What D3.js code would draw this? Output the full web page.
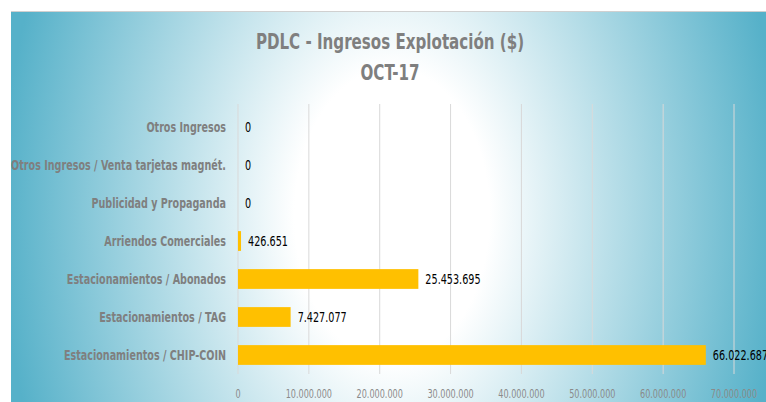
<!DOCTYPE html>
<html>
<head>
<meta charset="utf-8">
<script src="https://cdn.jsdelivr.net/npm/d3@7"></script>
<style>
  body { margin: 0; background: #fff; }
  svg { display: block; }
  text { font-family: "DejaVu Sans Condensed", "DejaVu Sans", sans-serif; }
</style>
</head>
<body>
<div id="chart"></div>
<script>
// Data
const categories = [
    "Otros Ingresos",
    "Otros Ingresos / Venta tarjetas magnét.",
    "Publicidad y Propaganda",
    "Arriendos Comerciales",
    "Estacionamientos / Abonados",
    "Estacionamientos / TAG",
    "Estacionamientos / CHIP-COIN"
];
const values = [0, 0, 0, 426651, 25453695, 7427077, 66022687];
const xTicks = [0, 10000000, 20000000, 30000000, 40000000, 50000000, 60000000, 70000000];
const titleLines = ["PDLC - Ingresos Explotación ($)", "OCT-17"];

const W = 766, H = 402;
const margin = {top: 108, right: 32, bottom: 28, left: 238};
const height = H - margin.top - margin.bottom;

// thousands separator with dots
const fmt = d3.formatLocale({decimal: ",", thousands: ".", grouping: [3], currency: ["$", ""]}).format(",.0f");

// squeeze the condensed font a bit more, to look like the narrow original face
const squeeze = (sx) => (sel) => sel.attr("transform", function() {
    const px = +this.getAttribute("data-x"), py = +this.getAttribute("data-y");
    return `translate(${px},${py}) scale(${sx},1)`;
});

const svg = d3.select("#chart").append("svg")
    .attr("width", W)
    .attr("height", H);

// background gradient
const defs = svg.append("defs");
const grad = defs.append("radialGradient")
    .attr("id", "bg")
    .attr("gradientUnits", "userSpaceOnUse")
    .attr("cx", 392).attr("cy", 215).attr("r", 390)
    .attr("gradientTransform", "translate(392,215) scale(1,1.5) translate(-392,-215)");
grad.append("stop").attr("offset", "0%").attr("stop-color", "#ffffff");
grad.append("stop").attr("offset", "25%").attr("stop-color", "#ffffff");
grad.append("stop").attr("offset", "100%").attr("stop-color", "#56b1c9");

svg.append("rect")
    .attr("x", 11).attr("y", 11)
    .attr("width", W - 11).attr("height", H - 11)
    .attr("fill", "url(#bg)");
svg.append("line")
    .attr("x1", 11).attr("x2", W).attr("y1", 11.5).attr("y2", 11.5)
    .style("stroke", "#d0d0d0");

// title
svg.append("g").selectAll("text")
    .data(titleLines)
    .enter().append("text")
    .attr("data-x", 390)
    .attr("data-y", (d, i) => 49 + i * 31)
    .attr("text-anchor", "middle")
    .style("font-size", "21px")
    .style("font-weight", "bold")
    .style("fill", "#7f7f7f")
    .text(d => d)
    .call(squeeze(0.8));

const g = svg.append("g")
    .attr("transform", `translate(${margin.left},${margin.top})`);

const x = d3.scaleLinear().domain([0, 70000000]).range([0, 496]);
const y = d3.scaleBand().domain(categories).range([0, height]).paddingInner(0.48).paddingOuter(0.24);

// gridlines
g.selectAll("line.grid")
    .data(xTicks.slice(1))
    .enter().append("line")
    .attr("class", "grid")
    .attr("x1", d => x(d)).attr("x2", d => x(d))
    .attr("y1", -4).attr("y2", height)
    .style("stroke", "#d9d9d9")
    .style("stroke-width", 1);

// left axis line
g.append("line")
    .attr("x1", 0).attr("x2", 0)
    .attr("y1", -4).attr("y2", height)
    .style("stroke", "#d9d9d9");

// x tick labels
g.selectAll("text.xtick")
    .data(xTicks)
    .enter().append("text")
    .attr("class", "xtick")
    .attr("data-x", d => x(d))
    .attr("data-y", height + 24)
    .attr("text-anchor", "middle")
    .style("font-size", "12.5px")
    .style("fill", "#8a8a8a")
    .text(d => fmt(d))
    .call(squeeze(0.72));

// category labels
g.selectAll("text.cat")
    .data(categories)
    .enter().append("text")
    .attr("class", "cat")
    .attr("data-x", -12)
    .attr("data-y", d => y(d) + y.bandwidth() / 2)
    .attr("dy", "0.35em")
    .attr("text-anchor", "end")
    .style("font-size", "13.5px")
    .style("font-weight", "bold")
    .style("fill", "#7f7f7f")
    .text(d => d)
    .call(squeeze(0.79));

// bars
g.selectAll("rect.bar")
    .data(values)
    .enter().append("rect")
    .attr("class", "bar")
    .attr("x", 0)
    .attr("y", (d, i) => y(categories[i]))
    .attr("width", d => x(d))
    .attr("height", y.bandwidth())
    .style("fill", "#ffc000");

// value labels
g.selectAll("text.val")
    .data(values)
    .enter().append("text")
    .attr("class", "val")
    .attr("data-x", d => x(d) + 7)
    .attr("data-y", (d, i) => y(categories[i]) + y.bandwidth() / 2)
    .attr("dy", "0.35em")
    .style("font-size", "14.5px")
    .style("fill", "#000")
    .text(d => fmt(d))
    .call(squeeze(0.74));
</script>
</body>
</html>
